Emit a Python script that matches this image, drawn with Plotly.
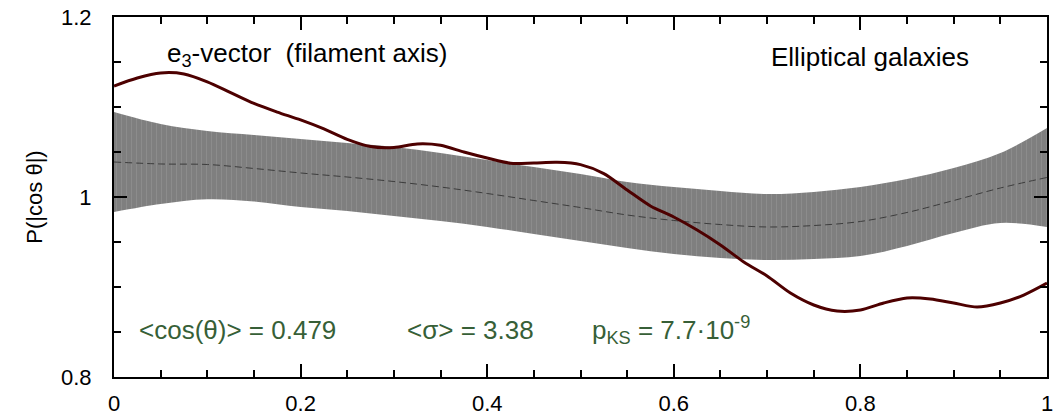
import plotly.graph_objects as go

# ---- data ----
band_x = [0.0, 0.05, 0.1, 0.15, 0.2, 0.25, 0.3, 0.35, 0.4, 0.45, 0.5,
          0.55, 0.6, 0.65, 0.7, 0.75, 0.8, 0.85, 0.9, 0.95, 1.0]
band_upper = [1.0944, 1.0811, 1.0733, 1.0689, 1.0644, 1.0600, 1.0556, 1.0489, 1.0411, 1.0333, 1.0256,
              1.0167, 1.0111, 1.0067, 1.0033, 1.0056, 1.0111, 1.0200, 1.0322, 1.0489, 1.0767]
band_lower = [0.9833, 0.9922, 0.9975, 0.9950, 0.9889, 0.9844, 0.9789, 0.9733, 0.9667, 0.9589, 0.9511,
              0.9433, 0.9367, 0.9322, 0.9300, 0.9311, 0.9344, 0.9456, 0.9600, 0.9711, 0.9667]
band_mean = [1.0389, 1.0367, 1.0361, 1.0317, 1.0267, 1.0222, 1.0172, 1.0111, 1.0039, 0.9961, 0.9883,
             0.9800, 0.9739, 0.9694, 0.9667, 0.9683, 0.9728, 0.9828, 0.9961, 1.0100, 1.0217]

obs_x = [0.0, 0.025, 0.05, 0.075, 0.1, 0.125, 0.15, 0.175, 0.2, 0.225, 0.25, 0.275, 0.3, 0.325,
         0.35, 0.375, 0.4, 0.425, 0.45, 0.475, 0.5, 0.525, 0.55, 0.575, 0.6, 0.625, 0.65, 0.675,
         0.7, 0.725, 0.75, 0.775, 0.8, 0.825, 0.85, 0.875, 0.9, 0.925, 0.95, 0.975, 1.0]
obs_y = [1.1233, 1.1322, 1.1378, 1.1367, 1.1280, 1.1160, 1.1040, 1.0944, 1.0856, 1.0756, 1.0640,
         1.0560, 1.0550, 1.0590, 1.0575, 1.0500, 1.0433, 1.0375, 1.0378, 1.0385, 1.0360, 1.0260,
         1.0078, 0.9900, 0.9778, 0.9633, 0.9467, 0.9278, 0.9122, 0.8933, 0.8800, 0.8733, 0.8744,
         0.8822, 0.8878, 0.8867, 0.8822, 0.8778, 0.8822, 0.8911, 0.9044]

x_ticks = [0, 0.2, 0.4, 0.6, 0.8, 1.0]
x_ticklabels = ["0", "0.2", "0.4", "0.6", "0.8", "1"]
y_ticks = [0.8, 1.0, 1.2]
y_ticklabels = ["0.8", "1", "1.2"]

FONT = "Liberation Sans, Arial, Helvetica, sans-serif"
GREEN = "#375f37"
ANNO_SIZE = 26
TICK_SIZE = 22

fig = go.Figure()
fig.add_trace(go.Scatter(x=band_x, y=band_lower, mode="lines", line=dict(width=0, shape="spline"),
                         hoverinfo="skip", showlegend=False))
fig.add_trace(go.Scatter(x=band_x, y=band_upper, mode="lines", line=dict(width=0, shape="spline"),
                         fill="tonexty", fillcolor="#7f7f7f",
                         fillpattern=dict(shape="|", fgcolor="#9a9a9a", bgcolor="#7f7f7f",
                                          size=5, solidity=0.2),
                         hoverinfo="skip", showlegend=False))
fig.add_trace(go.Scatter(x=band_x, y=band_mean, mode="lines",
                         line=dict(color="#3c3c3c", width=1, dash="7px,4px", shape="spline"),
                         showlegend=False))
fig.add_trace(go.Scatter(x=obs_x, y=obs_y, mode="lines",
                         line=dict(color="#4d0000", width=3, shape="spline", smoothing=0.8),
                         showlegend=False))

axis_common = dict(showline=True, linecolor="black", linewidth=2, mirror="allticks",
                   ticks="inside", tickcolor="black", tickwidth=2, ticklen=13,
                   showgrid=False, zeroline=False, automargin=False,
                   tickfont=dict(family=FONT, size=TICK_SIZE, color="black"))

fig.update_xaxes(range=[0, 1], tickvals=x_ticks, ticktext=x_ticklabels, ticklabelstandoff=6,
                 minor=dict(dtick=0.05, ticks="inside", ticklen=7, tickwidth=2, tickcolor="black",
                            showgrid=False),
                 **axis_common)
fig.update_yaxes(range=[0.8, 1.2], tickvals=y_ticks, ticktext=y_ticklabels, ticklabelstandoff=16,
                 minor=dict(dtick=0.05, ticks="inside", ticklen=7, tickwidth=2, tickcolor="black",
                            showgrid=False),
                 title=dict(text="P(|cos θ|)", font=dict(family=FONT, size=22, color="black"),
                            standoff=12),
                 **axis_common)

annos = [
    dict(x=0.0547, y=1.158, text="e<sub>3</sub>-vector &nbsp;(filament axis)", color="black"),
    dict(x=0.702, y=1.1556, text="Elliptical galaxies", color="black"),
    dict(x=0.0247, y=0.8522, text="&lt;cos(θ)&gt; = 0.479", color=GREEN),
    dict(x=0.312, y=0.8522, text="&lt;σ&gt; = 3.38", color=GREEN),
    dict(x=0.510, y=0.8522, text="p<sub>KS</sub> = 7.7·10<sup>-9</sup>", color=GREEN),
]
for a in annos:
    fig.add_annotation(x=a["x"], y=a["y"], xref="x", yref="y", text=a["text"], showarrow=False,
                       xanchor="left", yanchor="middle",
                       font=dict(family=FONT, size=ANNO_SIZE, color=a["color"]))

fig.update_layout(width=1055, height=419, margin=dict(l=114, r=8, t=17, b=42),
                  plot_bgcolor="white", paper_bgcolor="white",
                  font=dict(family=FONT))

fig.write_html("out.html")
